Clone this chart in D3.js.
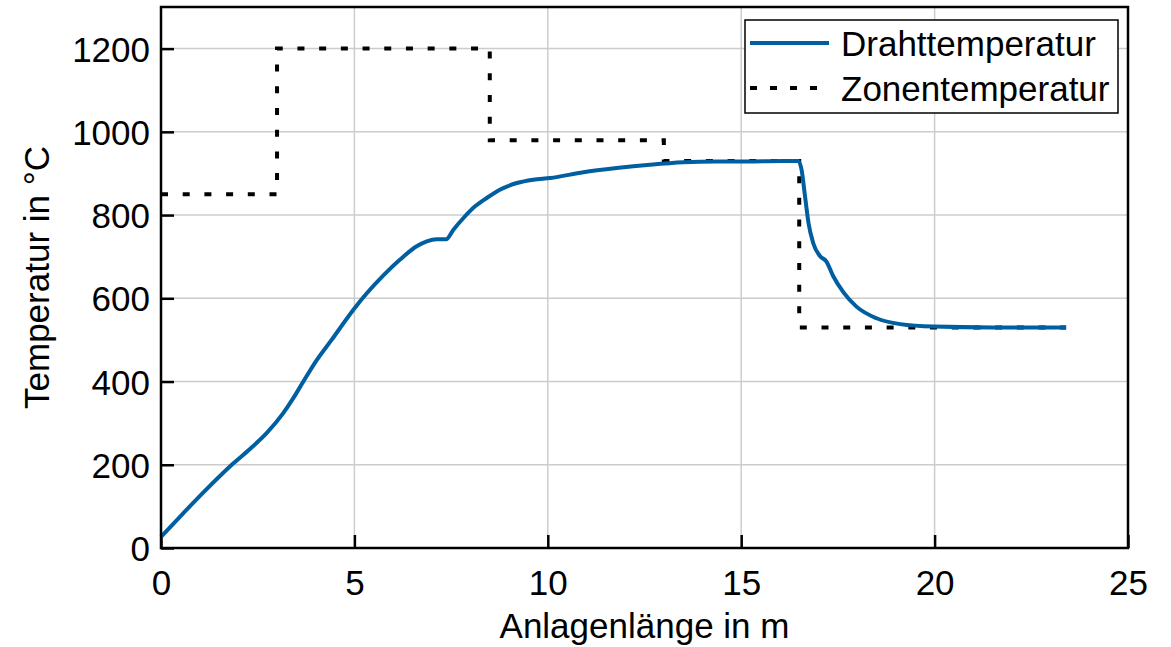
<!DOCTYPE html>
<html>
<head>
<meta charset="utf-8">
<script src="https://cdn.jsdelivr.net/npm/d3@7"></script>
<style>
  body { margin: 0; background: #fff; }
  svg text { font-family: "Liberation Sans", Arial, sans-serif; fill: #000; }
</style>
</head>
<body>
<div id="chart"></div>
<script>
// wire temperature
const wireX = [0, 0.58, 1.09, 1.83, 2.30, 2.73, 3.16, 3.42, 3.68, 4.03, 4.41, 4.97, 5.32, 5.75, 6.18, 6.61, 6.87, 7.13, 7.37, 7.56, 7.82, 8.12, 8.42, 8.76, 9.20, 9.62, 10.06, 10.92, 11.78, 12.64, 13.50, 14.37, 15.23, 16.09, 16.48, 16.56, 16.65, 16.74, 16.86, 17.04, 17.20, 17.38, 17.64, 17.98, 18.50, 19.11, 19.97, 21.5, 23.40];
const wireY = [27, 84, 133, 200, 238, 276, 324, 360, 400, 452, 500, 572, 612, 655, 693, 725, 737, 742, 742, 765, 793, 821, 841, 861, 877, 885, 889, 903, 913, 921, 927, 929, 929, 930, 930, 909, 845, 781, 733, 701, 689, 653, 615, 580, 552, 538, 532, 530, 530];

// zone set points (step after)
const zoneX = [0, 3, 8.5, 13, 16.5, 23.4];
const zoneY = [850, 1200, 980, 930, 530, 530];

const xTicks = [0, 5, 10, 15, 20, 25];
const yTicks = [0, 200, 400, 600, 800, 1000, 1200];
const legendNames = ["Drahttemperatur", "Zonentemperatur"];

const W = 1171, H = 647;
const margin = {top: 7, right: 43, bottom: 99, left: 161};
const w = W - margin.left - margin.right;
const h = H - margin.top - margin.bottom;
const fs = 35;

const svg = d3.select("#chart").append("svg")
  .attr("width", W)
  .attr("height", H);

const g = svg.append("g").attr("transform", `translate(${margin.left},${margin.top})`);

const x = d3.scaleLinear().domain([0, 25]).range([0, w]);
const y = d3.scaleLinear().domain([0, 1300]).range([h, 0]);

// grid
g.append("g").selectAll("line").data(xTicks.slice(1, -1)).enter().append("line")
  .attr("x1", d => x(d)).attr("x2", d => x(d))
  .attr("y1", 0).attr("y2", h)
  .attr("stroke", "#cccccc").attr("stroke-width", 1.5);
g.append("g").selectAll("line").data(yTicks.slice(1)).enter().append("line")
  .attr("x1", 0).attr("x2", w)
  .attr("y1", d => y(d)).attr("y2", d => y(d))
  .attr("stroke", "#cccccc").attr("stroke-width", 1.5);

// axes with inward ticks
const xAxis = g.append("g").attr("transform", `translate(0,${h})`)
  .call(d3.axisBottom(x).tickValues(xTicks).tickFormat(d3.format("d"))
    .tickSizeInner(-13).tickSizeOuter(0).tickPadding(22));
const yAxis = g.append("g")
  .call(d3.axisLeft(y).tickValues(yTicks).tickFormat(d3.format("d"))
    .tickSizeInner(-13).tickSizeOuter(0).tickPadding(24));
[xAxis, yAxis].forEach(a => {
  a.select(".domain").remove();
  a.selectAll(".tick line").attr("stroke", "#000").attr("stroke-width", 2.5);
  a.selectAll(".tick text").attr("font-size", fs).attr("font-family", "Liberation Sans, Arial, sans-serif");
});
yAxis.selectAll(".tick text").attr("x", -11).attr("dy", "0.36em");
xAxis.selectAll(".tick text").attr("dy", "0.7em");

// lines
const wire = wireX.map((d, i) => [d, wireY[i]]);
const zone = zoneX.map((d, i) => [d, zoneY[i]]);

g.append("path")
  .datum(zone)
  .attr("fill", "none")
  .attr("stroke", "#000")
  .attr("stroke-width", 4)
  .attr("stroke-dasharray", "7 14.7")
  .attr("d", d3.line().x(d => x(d[0])).y(d => y(d[1])).curve(d3.curveStepAfter));

g.append("path")
  .datum(wire)
  .attr("fill", "none")
  .attr("stroke", "#005fa0")
  .attr("stroke-width", 4)
  .attr("stroke-linejoin", "round")
  .attr("d", d3.line().x(d => x(d[0])).y(d => y(d[1])).curve(d3.curveMonotoneX));

// box
g.append("rect")
  .attr("width", w).attr("height", h)
  .attr("fill", "none").attr("stroke", "#000").attr("stroke-width", 2.5);

// legend
const leg = svg.append("g").attr("transform", "translate(745,20)");
leg.append("rect").attr("width", 373).attr("height", 93)
  .attr("fill", "#fff").attr("stroke", "#000").attr("stroke-width", 1.5);
const rows = leg.selectAll(".row").data(legendNames).enter().append("g")
  .attr("transform", (d, i) => `translate(0,${23 + i * 45})`);
rows.append("line")
  .attr("x1", 5).attr("x2", 84)
  .attr("stroke", (d, i) => i === 0 ? "#005fa0" : "#000")
  .attr("stroke-width", 4)
  .attr("stroke-dasharray", (d, i) => i === 0 ? null : "7 13");
rows.append("text")
  .attr("x", 96).attr("dy", "0.36em")
  .attr("font-size", fs)
  .text(d => d);

// axis titles
svg.append("text")
  .attr("x", margin.left + w / 2).attr("y", 638)
  .attr("text-anchor", "middle").attr("font-size", fs)
  .text("Anlagenlänge in m");
svg.append("text")
  .attr("transform", `translate(49,${margin.top + h / 2}) rotate(-90)`)
  .attr("text-anchor", "middle").attr("font-size", fs)
  .text("Temperatur in °C");
</script>
</body>
</html>
